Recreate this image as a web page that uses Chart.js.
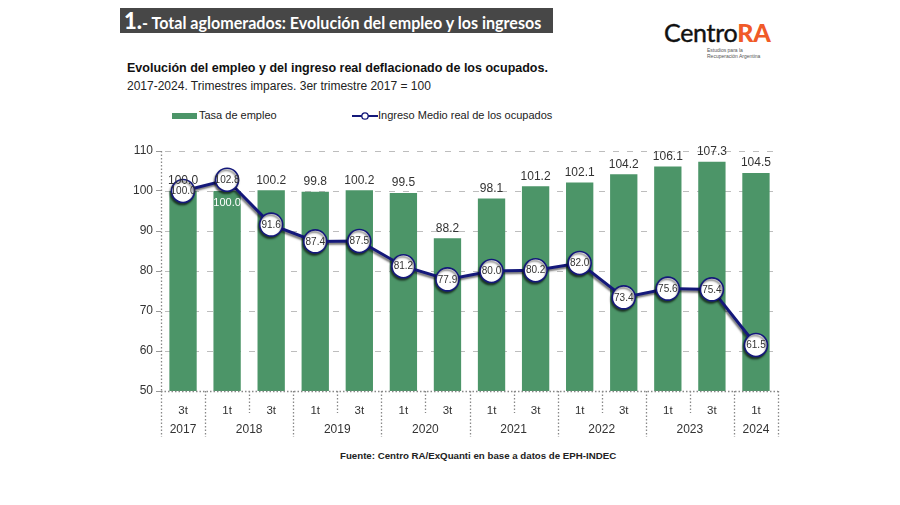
<!DOCTYPE html>
<html><head><meta charset="utf-8">
<script src="https://cdn.jsdelivr.net/npm/chart.js@4/dist/chart.umd.min.js"></script>
<style>
html,body{margin:0;padding:0;background:#fff;width:900px;height:505px;overflow:hidden;position:relative;font-family:"Liberation Sans",Arial,sans-serif;}
#titlebar{position:absolute;left:120px;top:8px;width:433px;height:25px;background:#474747;color:#fff;font-family:Lato,"Open Sans",sans-serif;font-weight:700;font-size:16.1px;line-height:25px;padding-left:4px;box-sizing:border-box;white-space:nowrap;overflow:hidden;}
#titlebar b{font-size:22px;}
#logo{position:absolute;left:664px;top:18px;}
#logo .main{font-family:Lato,"Open Sans",sans-serif;font-size:25px;line-height:28px;color:#111;font-weight:700;letter-spacing:-0.3px;}
#logo .main span.c{font-weight:400;-webkit-text-stroke:0.4px #111;}
#logo .ra{color:#f05a28;font-weight:900;}
#logo .sub{position:absolute;left:43px;top:29px;font-size:5px;line-height:6px;color:#555;white-space:nowrap;}
#sub1{position:absolute;left:127px;top:61px;font-weight:700;font-size:12.5px;color:#111;white-space:nowrap;}
#sub2{position:absolute;left:127px;top:79px;font-size:12px;color:#222;white-space:nowrap;}
#leg1{position:absolute;left:172px;top:113px;width:25px;height:6px;background:#4c9568;}
#leg1t{position:absolute;left:199px;top:109px;font-size:11px;color:#222;white-space:nowrap;}
#leg2{position:absolute;left:352px;top:110px;width:26px;height:12px;}
#leg2t{position:absolute;left:378px;top:109px;font-size:11px;color:#222;white-space:nowrap;}
#foot{position:absolute;left:340px;top:450px;font-weight:700;font-size:9.7px;color:#222;white-space:nowrap;}
#wrap{position:absolute;left:100px;top:135px;width:700px;height:320px;}
</style></head><body>
<div id="titlebar"><b>1.</b>- Total aglomerados: Evolución del empleo y los ingresos</div>
<div id="logo"><div class="main"><span class="c">Centro</span><span class="ra">RA</span></div><div class="sub">Estudios para la<br>Recuperación Argentina</div></div>
<div id="sub1">Evolución del empleo y del ingreso real deflacionado de los ocupados.</div>
<div id="sub2">2017-2024. Trimestres impares. 3er trimestre 2017 = 100</div>
<div id="leg1"></div><div id="leg1t">Tasa de empleo</div>
<svg id="leg2" viewBox="0 0 26 12"><line x1="0" y1="6" x2="26" y2="6" stroke="#14187a" stroke-width="2"/><circle cx="13" cy="6" r="3.2" fill="#fff" stroke="#14187a" stroke-width="1.3"/></svg>
<div id="leg2t">Ingreso Medio real de los ocupados</div>
<div id="foot">Fuente: Centro RA/ExQuanti en base a datos de EPH-INDEC</div>
<div id="wrap"><canvas id="c" width="700" height="320"></canvas></div>
<script>
const quarters = ["3t","1t","3t","1t","3t","1t","3t","1t","3t","1t","3t","1t","3t","1t"];
const years = ["2017","2018","2018","2019","2019","2020","2020","2021","2021","2022","2022","2023","2023","2024"];
const tasaEmpleo = [100.0,100.0,100.2,99.8,100.2,99.5,88.2,98.1,101.2,102.1,104.2,106.1,107.3,104.5];
const ingresoReal = [100.0,102.8,91.6,87.4,87.5,81.2,77.9,80.0,80.2,82.0,73.4,75.6,75.4,61.5];
const yTicks = [50,60,70,80,90,100,110];

const GREEN = '#4c9568', NAVY = '#14187a';

const labelsPlugin = {
  id:'labels',
  beforeDatasetsDraw(chart){
    const c = chart.ctx, area = chart.chartArea, y = chart.scales.y;
    c.save();
    c.strokeStyle='#bdbdbd'; c.lineWidth=1; c.setLineDash([6,8]);
    yTicks.forEach(v=>{
      if(v===y.min) return;
      const py = Math.round(y.getPixelForValue(v))+0.5;
      c.beginPath(); c.moveTo(area.left+4, py); c.lineTo(area.right, py); c.stroke();
    });
    c.restore();
  },
  beforeDatasetDraw(chart, args){
    if(args.index===1){ const c=chart.ctx; c.save(); c.shadowColor='rgba(0,0,0,0.55)'; c.shadowBlur=2; c.shadowOffsetX=-1; c.shadowOffsetY=2; }
  },
  afterDatasetDraw(chart, args){
    if(args.index===1){ chart.ctx.restore(); }
  },
  afterDatasetsDraw(chart){
    const c = chart.ctx;
    const bars = chart.getDatasetMeta(0).data, pts = chart.getDatasetMeta(1).data;
    c.save();
    c.textAlign='center';
    bars.forEach((b,i)=>{
      const v = tasaEmpleo[i], lv = ingresoReal[i];
      const inside = lv > v && (lv - v) < 6;
      c.font = '12px "Liberation Sans", Arial, sans-serif';
      if(inside){ c.fillStyle='#ffffff'; c.textBaseline='middle'; c.font='11px "Liberation Sans", Arial, sans-serif'; c.fillText(v.toFixed(1), b.x, b.y+12); }
      else { c.fillStyle='#333'; c.textBaseline='bottom'; c.fillText(v.toFixed(1), b.x, b.y-4); }
    });
    c.font = '10px "Liberation Sans", Arial, sans-serif';
    c.fillStyle='#333'; c.textBaseline='middle';
    pts.forEach((p,i)=>{ c.fillText(ingresoReal[i].toFixed(1), p.x, p.y+0.5); });
    c.restore();
  },
  afterDraw(chart){
    const c = chart.ctx, x = chart.scales.x, area = chart.chartArea;
    const n = quarters.length;
    const step = x.getPixelForValue(1) - x.getPixelForValue(0);
    c.save();
    c.strokeStyle='#888'; c.lineWidth=1.3; c.setLineDash([1.5,2]);
    const lx = Math.round(area.left)+0.5;
    c.beginPath(); c.moveTo(lx, area.top); c.lineTo(lx, area.bottom); c.stroke();
    c.beginPath(); c.moveTo(area.left, Math.round(area.bottom)+0.5); c.lineTo(area.right, Math.round(area.bottom)+0.5); c.stroke();
    for(let i=0;i<=n;i++){
      const px = Math.round((i<n ? x.getPixelForValue(i) - step/2 : x.getPixelForValue(n-1)+step/2))+0.5;
      const long = (i===0 || i===n || years[i]!==years[i-1]);
      c.beginPath(); c.moveTo(px, area.bottom); c.lineTo(px, area.bottom + (long?46:22)); c.stroke();
    }
    c.setLineDash([]);
    c.fillStyle='#333'; c.font='12px "Liberation Sans", Arial, sans-serif'; c.textAlign='center'; c.textBaseline='middle';
    let s=0;
    for(let i=1;i<=n;i++){
      if(i===n || years[i]!==years[s]){
        const cx = (x.getPixelForValue(s)+x.getPixelForValue(i-1))/2;
        c.fillText(years[s], cx, area.bottom+39);
        s=i;
      }
    }
    c.restore();
  }
};

new Chart(document.getElementById('c'), {
  data:{
    labels: quarters,
    datasets:[
      {type:'bar', label:'Tasa de empleo', data:tasaEmpleo, backgroundColor:GREEN, categoryPercentage:0.62, barPercentage:1, order:2},
      {type:'line', label:'Ingreso Medio real de los ocupados', data:ingresoReal, borderColor:NAVY, borderWidth:3, pointRadius:11.5, pointBackgroundColor:'#fff', pointBorderColor:NAVY, pointBorderWidth:1.6, tension:0, order:1}
    ]
  },
  options:{
    responsive:false, animation:false, events:[],
    layout:{padding:{left:0,right:22,top:16,bottom:0}},
    plugins:{legend:{display:false}, tooltip:{enabled:false}},
    scales:{
      x:{
        grid:{display:false, drawTicks:false},
        border:{display:false},
        ticks:{color:'#333', font:{size:11.5, family:'"Liberation Sans", Arial, sans-serif'}, padding:13, maxRotation:0, autoSkip:false},
        afterFit(s){ s.height = 64; }
      },
      y:{
        min:50, max:110,
        afterBuildTicks(s){ s.ticks = yTicks.map(v=>({value:v})); },
        grid:{drawOnChartArea:false, tickLength:5, tickColor:'#999'},
        border:{display:false},
        ticks:{color:'#333', font:{size:12, family:'"Liberation Sans", Arial, sans-serif'}, padding:3},
        afterFit(s){ s.width = 61; }
      }
    }
  },
  plugins:[labelsPlugin]
});
</script>
</body></html>
